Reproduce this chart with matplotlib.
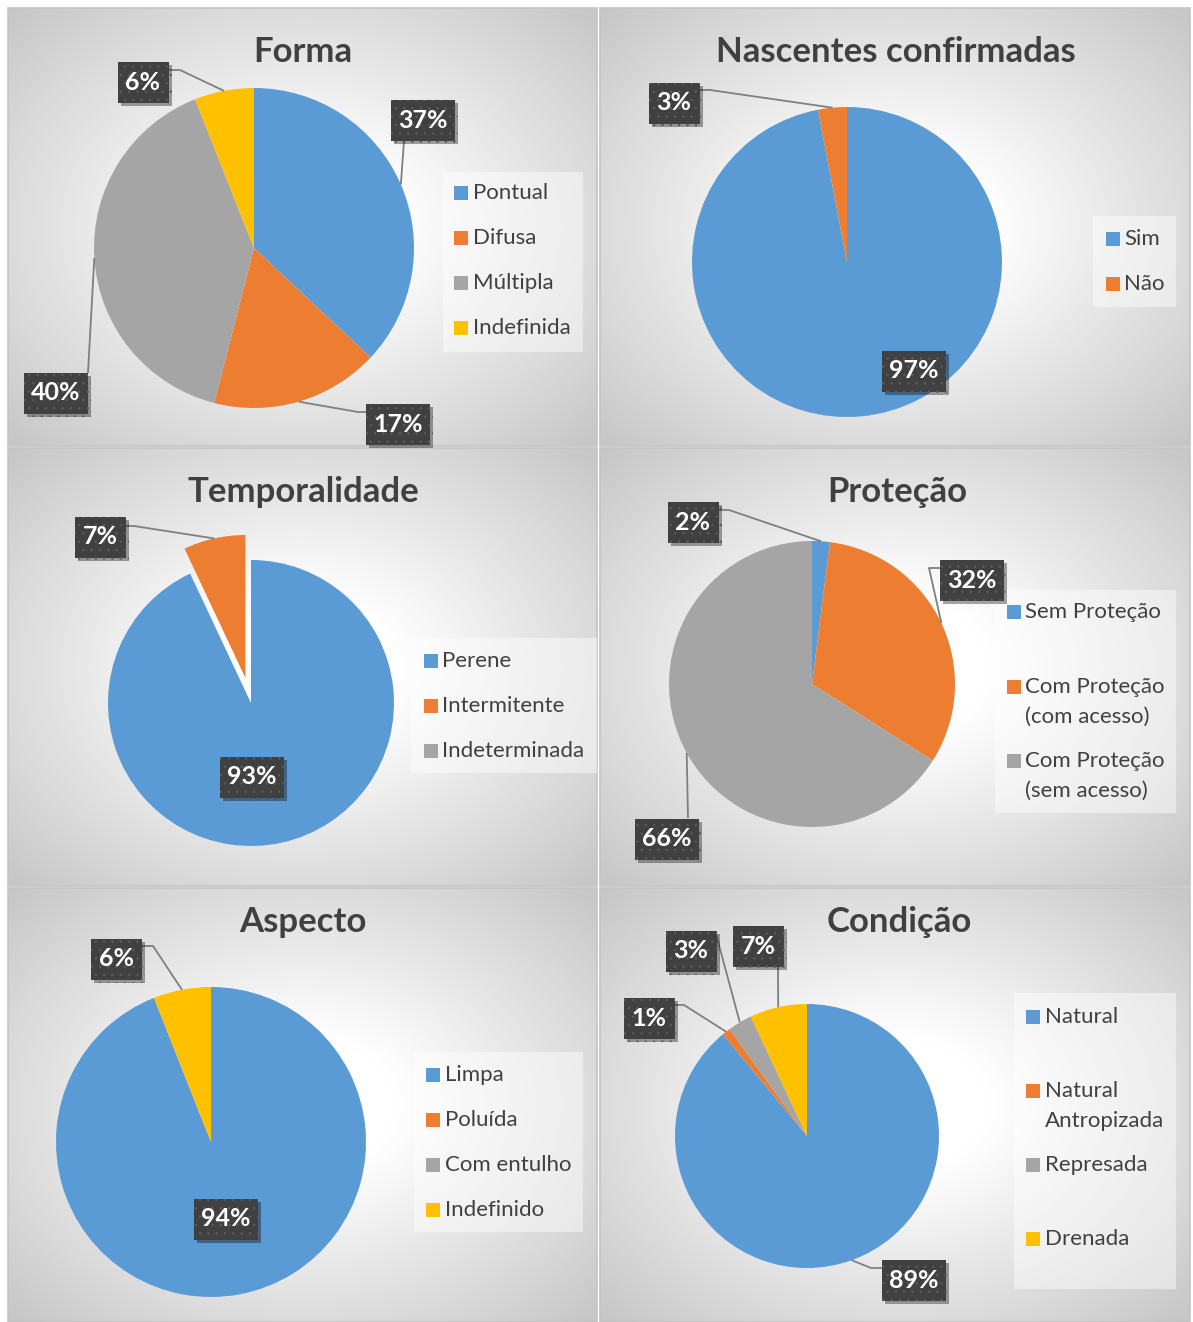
import numpy as np
import matplotlib
matplotlib.use("Agg")
import matplotlib.pyplot as plt
from matplotlib.patches import Rectangle
import matplotlib.patheffects as pe

W, H = 1193, 1322
plt.rcParams['font.family'] = ['Lato', 'DejaVu Sans']
plt.rcParams['hatch.linewidth'] = 0.6

BLUE, ORANGE, GRAY, YELLOW = "#5B9BD5", "#ED7D31", "#A5A5A5", "#FFC000"
colors = [BLUE, ORANGE, GRAY, YELLOW]
TXT = "#404040"

# ---- data ----
forma_labels = ["Pontual", "Difusa", "Múltipla", "Indefinida"]
forma_values = [37, 17, 40, 6]
nasc_labels = ["Sim", "Não"]
nasc_values = [97, 3]
temp_labels = ["Perene", "Intermitente", "Indeterminada"]
temp_values = [93, 7, 0]
prot_labels = ["Sem Proteção", "Com Proteção\n(com acesso)", "Com Proteção\n(sem acesso)"]
prot_values = [2, 32, 66]
asp_labels = ["Limpa", "Poluída", "Com entulho", "Indefinido"]
asp_values = [94, 0, 0, 6]
cond_labels = ["Natural", "Natural\nAntropizada", "Represada", "Drenada"]
cond_values = [89, 1, 3, 7]

# ---- layout (pixel coords, y down) ----
panels = [
    dict(title="Forma", labels=forma_labels, values=forma_values,
         rect=(8, 8, 597, 446), tpos=(303, 52), c=(254, 248), r=160, explode=None,
         dl=[(0, (423, 120), [(404, 141)]),
             (1, (398, 424), [(358, 412), (367, 412)]),
             (2, (56, 393), [(88, 373)]),
             (3, (143, 82), [(180, 70), (168, 70)])],
         leg=(443, 172, 583, 352), sq=454, tx=473, ly=[193, 238, 283, 328]),
    dict(title="Nascentes confirmadas", labels=nasc_labels, values=nasc_values,
         rect=(600, 8, 1190, 446), tpos=(896, 52), c=(847, 262), r=155, explode=None,
         dl=[(0, (914, 371), None),
             (1, (674, 103), [(710, 90), (699, 90)])],
         leg=(1093, 216, 1176, 307), sq=1106, tx=1124, ly=[239, 284]),
    dict(title="Temporalidade", labels=temp_labels, values=temp_values,
         rect=(8, 448, 597, 886), tpos=(303, 492), c=(251, 703), r=143, explode=[0, 25.6, 0],
         dl=[(0, (252, 777), None),
             (1, (100, 537), [(134, 526), (125, 526)])],
         leg=(411, 638, 597, 773), sq=424, tx=442, ly=[661, 706, 751]),
    dict(title="Proteção", labels=prot_labels, values=prot_values,
         rect=(600, 448, 1190, 886), tpos=(897, 492), c=(812, 684), r=143, explode=None,
         dl=[(0, (693, 522), [(729, 510), (718, 510)]),
             (1, (972, 580), [(929, 568), (941, 568)]),
             (2, (667, 839), [(688, 818)])],
         leg=(995, 590, 1176, 813), sq=1007, tx=1025, ly=[612, 687, 761]),
    dict(title="Aspecto", labels=asp_labels, values=asp_values,
         rect=(8, 888, 597, 1322), tpos=(303, 922), c=(211, 1142), r=155, explode=None,
         dl=[(0, (226, 1219), None),
             (3, (116, 959), [(153, 946), (141, 946)])],
         leg=(414, 1052, 583, 1232), sq=426, tx=445, ly=[1075, 1120, 1165, 1210]),
    dict(title="Condição", labels=cond_labels, values=cond_values,
         rect=(600, 888, 1190, 1322), tpos=(899, 922), c=(807, 1136), r=132, explode=None,
         dl=[(0, (914, 1280), [(871, 1268), (882, 1268)]),
             (1, (649, 1018), [(684, 1005), (674, 1005)]),
             (2, (691, 951), [(716, 934)]),
             (3, (758, 946), [(778, 967)])],
         leg=(1014, 993, 1176, 1289), sq=1026, tx=1045, ly=[1017, 1091, 1165, 1239]),
]


def P(x, y):
    return x, H - y


fig = plt.figure(figsize=(W / 100, H / 100), dpi=100)
fig.patch.set_facecolor("white")
ax = fig.add_axes([0, 0, 1, 1])

for p in panels:
    x0, y0, x1, y1 = p["rect"]
    # radial gradient background
    gx = np.linspace(-1, 1, 200)
    gy = np.linspace(-1, 1, 150)
    XX, YY = np.meshgrid(gx, gy)
    d = np.sqrt(XX ** 2 + YY ** 2) / np.sqrt(2)
    v = (255 - 57 * np.clip((d - 0.22) / 0.78, 0, 1)) / 255
    img = np.dstack([v, v, v])
    ax.imshow(img, extent=(x0, x1, H - y1, H - y0), interpolation="bilinear", zorder=0)
    ax.add_patch(Rectangle(P(x0, y1), x1 - x0, y1 - y0, fill=False,
                           edgecolor="#c4c4c4", lw=1.2, zorder=0.5))

    ax.text(*P(*p["tpos"]), p["title"], ha="center", va="center", fontsize=25,
            fontweight="bold", color=TXT, zorder=3)

    n = len(p["values"])
    wedges, _ = ax.pie(p["values"], colors=colors[:n], startangle=90, counterclock=False,
                       center=P(*p["c"]), radius=p["r"], explode=p["explode"], frame=True,
                       wedgeprops=dict(linewidth=0, zorder=2))

    # legend
    lx0, ly0, lx1, ly1 = p["leg"]
    ax.add_patch(Rectangle(P(lx0, ly1), lx1 - lx0, ly1 - ly0, facecolor="white",
                           alpha=0.45, lw=0, zorder=1.5))
    for i, (lab, yy) in enumerate(zip(p["labels"], p["ly"])):
        ax.add_patch(Rectangle(P(p["sq"], yy + 7), 14, 14, facecolor=colors[i], lw=0, zorder=3))
        for k, line in enumerate(lab.split("\n")):
            ax.text(*P(p["tx"], yy + k * 30), line, ha="left", va="center",
                    fontsize=16, color=TXT, zorder=3)

    # data labels
    for idx, (bx, by), path in p["dl"]:
        w = wedges[idx]
        pct = f"{p['values'][idx]}%"
        if path is not None:
            th = np.deg2rad((w.theta1 + w.theta2) / 2)
            ex = w.center[0] + w.r * np.cos(th)
            ey = w.center[1] + w.r * np.sin(th)
            xs = [ex] + [q[0] for q in path]
            ys = [ey] + [H - q[1] for q in path]
            ax.plot(xs, ys, color="#7f7f7f", lw=1.3, zorder=4, solid_capstyle="butt")
        bw = 51 if len(pct) == 2 else 64
        bh = 41
        box = Rectangle(P(bx - bw / 2, by + bh / 2), bw, bh, facecolor="#404040",
                        edgecolor="#5a5a5a", lw=0, hatch="..", zorder=5)
        box.set_path_effects([pe.withSimplePatchShadow(offset=(2.5, -2.5),
                                                       shadow_rgbFace="black", alpha=0.35),
                              pe.Normal()])
        ax.add_patch(box)
        ax.text(*P(bx, by), pct, ha="center", va="center", fontsize=18,
                fontweight="bold", color="white", zorder=6)

ax.set_xlim(0, W)
ax.set_ylim(0, H)
ax.set_aspect("auto")
ax.axis("off")
fig.savefig("out.png", dpi=100, facecolor="white")
